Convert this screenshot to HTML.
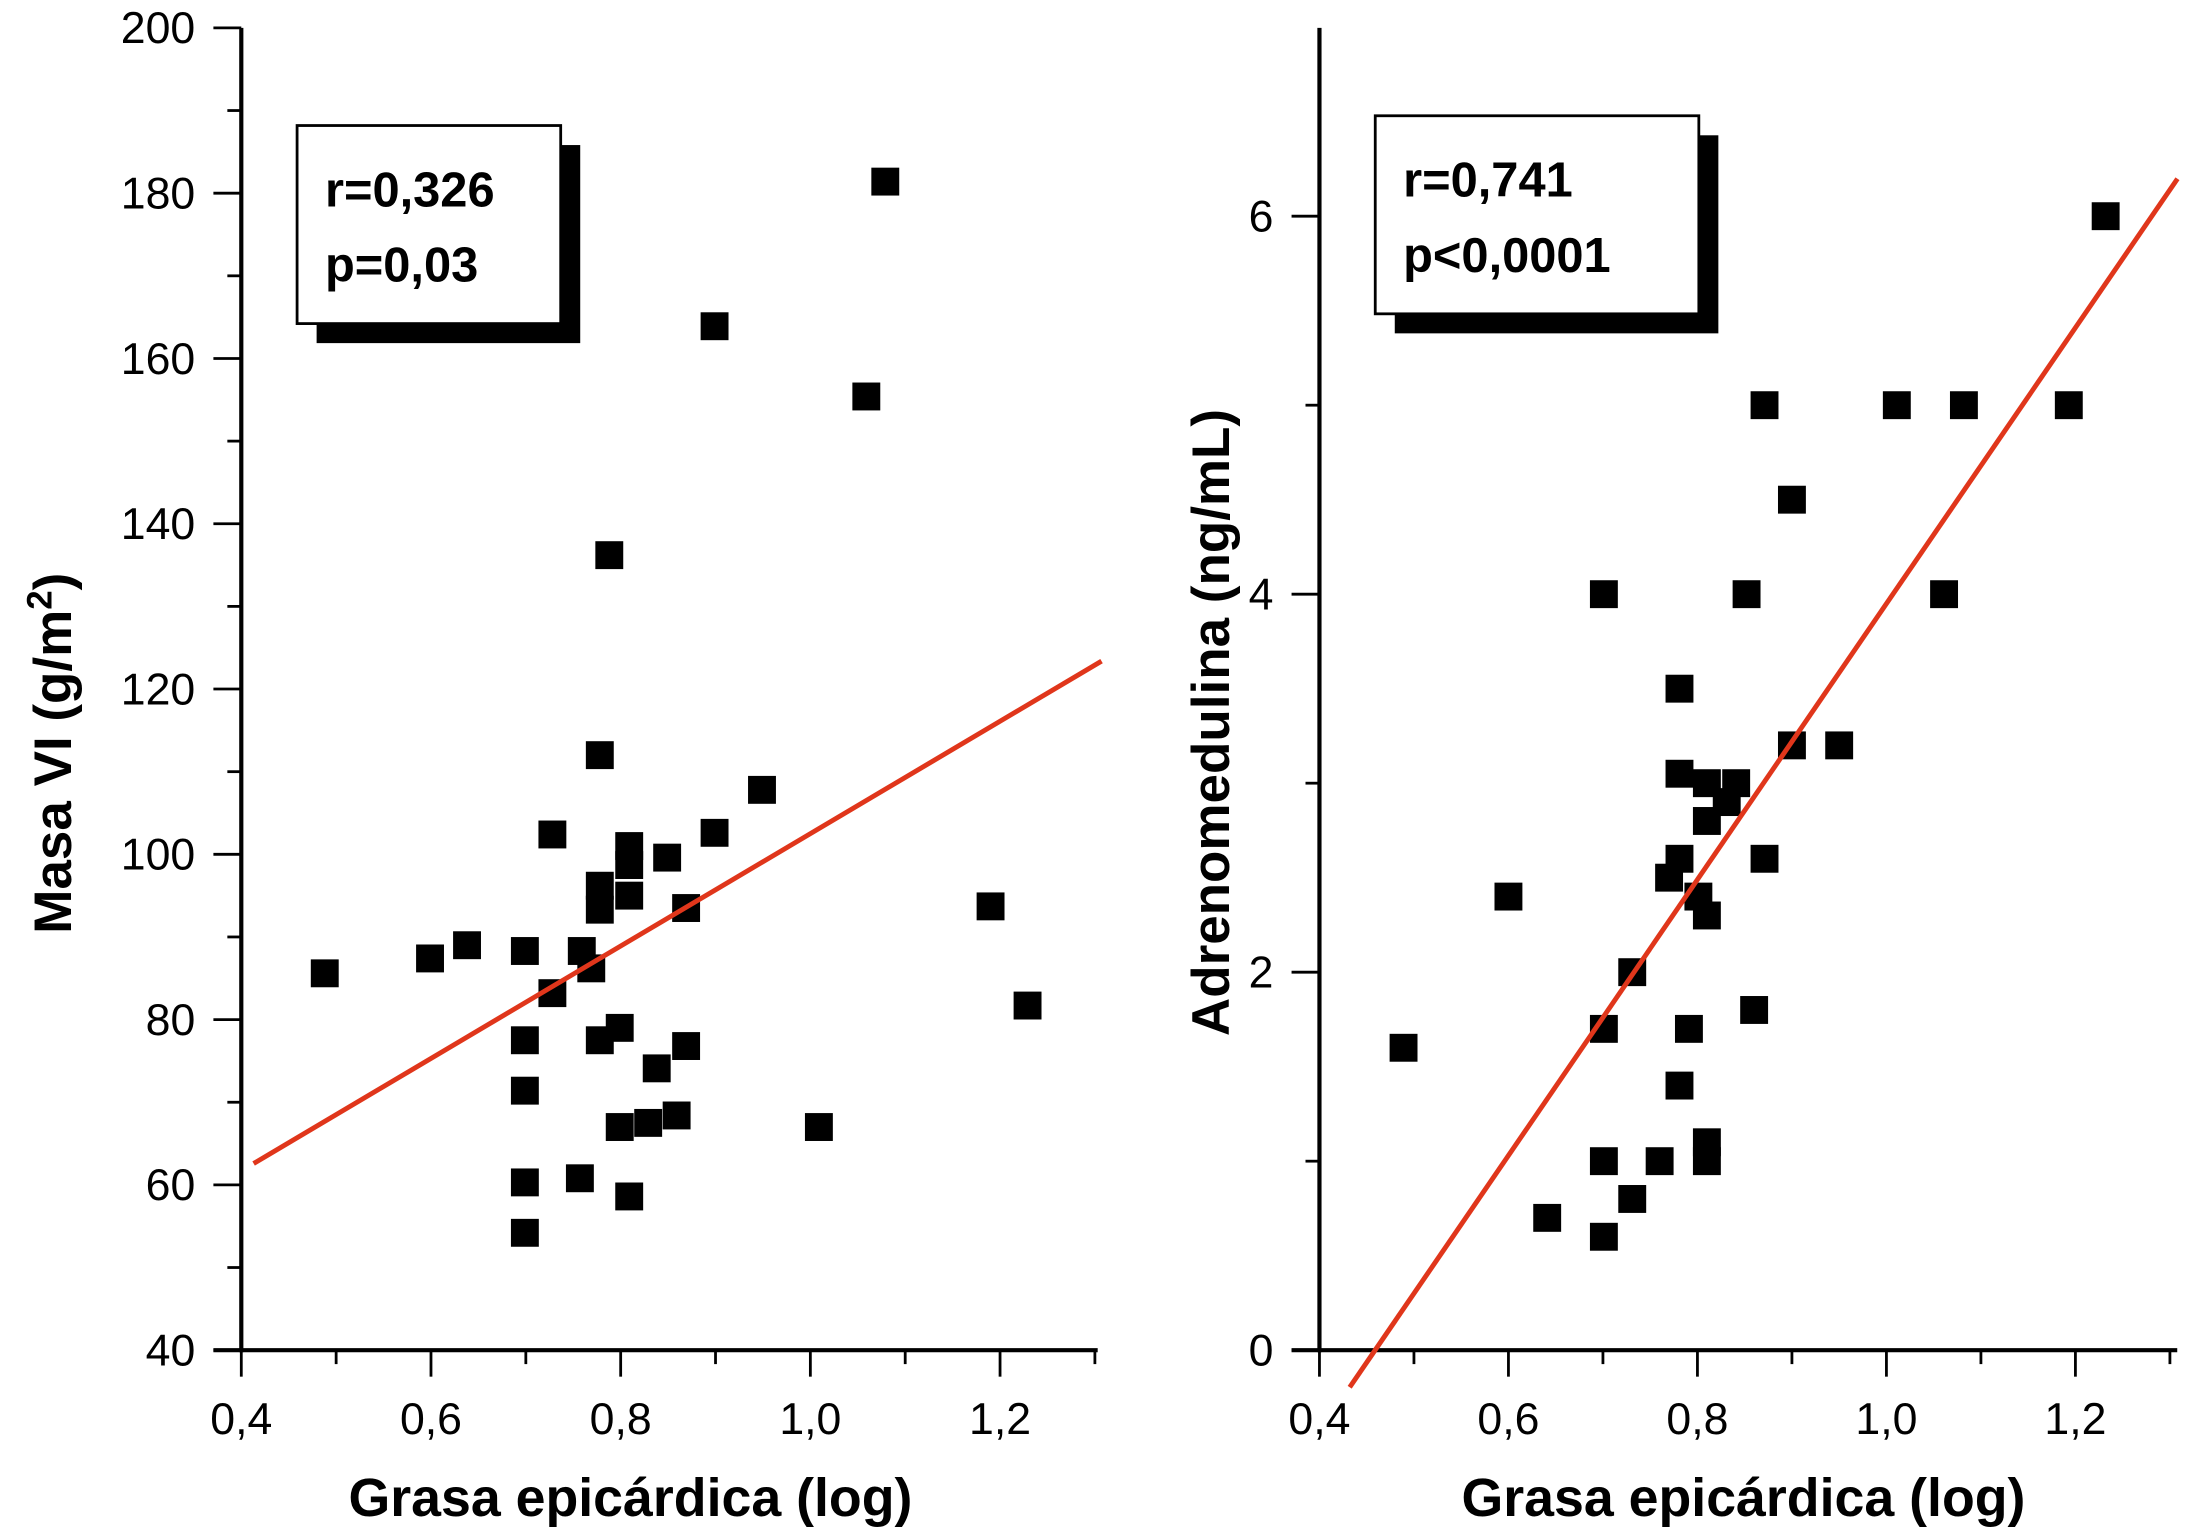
<!DOCTYPE html>
<html><head><meta charset="utf-8"><style>
html,body{margin:0;padding:0;background:#fff}
svg{display:block}
text{font-family:"Liberation Sans",Arial,sans-serif;fill:#000}
</style></head><body>
<svg id="fig" width="2187" height="1528" viewBox="0 0 1568 1095.5" preserveAspectRatio="none" xmlns="http://www.w3.org/2000/svg">
<g id="left"></g>
<g id="right"></g>
</svg>
<script>
const leftX = [0.488,0.599,0.638,0.699,0.699,0.699,0.699,0.699,0.728,0.728,0.757,0.759,0.769,0.778,0.778,0.778,0.778,0.788,0.799,0.799,0.809,0.809,0.809,0.809,0.829,0.838,0.859,0.849,0.869,0.869,0.899,0.899,0.949,1.009,1.059,1.079,1.19,1.229];
const leftY = [85.6,87.4,89,88.3,77.5,71.4,60.3,54.2,83.2,102.4,60.8,88.3,86.2,112,96.2,93.3,77.5,136.2,79,67,101,95,58.6,98.7,67.5,74.1,68.4,99.6,76.8,93.5,102.6,163.9,107.8,67,155.4,181.4,93.7,81.7];
const leftFit = [34.5, 68];
const leftYTicks = [40,60,80,100,120,140,160,180,200];
const rightX = [0.489,0.6,0.641,0.701,0.701,0.701,0.701,0.731,0.731,0.76,0.77,0.781,0.781,0.781,0.781,0.791,0.801,0.81,0.81,0.81,0.81,0.81,0.831,0.841,0.852,0.86,0.871,0.871,0.9,0.9,0.95,1.011,1.061,1.082,1.193,1.232];
const rightY = [1.6,2.4,0.7,4,1.7,1.0,0.6,2,0.8,1.0,2.5,3.5,3.05,2.6,1.4,1.7,2.4,3.0,2.3,2.8,1.1,1.0,2.9,3.0,4,1.8,5,2.6,4.5,3.2,3.2,5,4,5,5,6];
const rightFit = [-3.35, 7.3];
const rightYTicks = [0,2,4,6];
const xTicks = ['0,4','0,6','0,8','1,0','1,2'];
const xTickVals = [0.4,0.6,0.8,1.0,1.2];

const NS='http://www.w3.org/2000/svg';
function mk(parent,tag,attrs,txt){const e=document.createElementNS(NS,tag);for(const k in attrs)e.setAttribute(k,attrs[k]);if(txt!==undefined)e.textContent=txt;parent.appendChild(e);return e;}

function chart(g,cfg){
  const sx=v=>cfg.x0+(v-0.4)/0.2*cfg.dx;
  const sy=v=>cfg.yb-(v-cfg.ymin)*cfg.py;
  let e;
  e=mk(g,'line',{x1:cfg.x0,y1:cfg.ytop,x2:cfg.x0,y2:cfg.yb+1.5,stroke:'#000','stroke-width':3});
  
  
  e=mk(g,'line',{x1:cfg.x0-20,y1:cfg.yb,x2:cfg.xend,y2:cfg.yb,stroke:'#000','stroke-width':3});
  
  
  for(let v=cfg.ymin; v<=cfg.ymax+1e-9; v+=cfg.minor){
    const major=Math.abs(((v-cfg.ymin)/cfg.major)-Math.round((v-cfg.ymin)/cfg.major))<1e-6;
    mk(g,'line',{x1:cfg.x0-(major?20:10),y1:sy(v),x2:cfg.x0,y2:sy(v),stroke:'#000','stroke-width':2});
  }
  cfg.yticks.forEach(v=>{
    e=mk(g,'text',{x:cfg.x0-33,y:sy(v)+11,'text-anchor':'end','font-size':32},String(v));
    
    
  });
  for(let v=0.4; v<=cfg.xmaxTick+1e-9; v+=0.1){
    const major=Math.abs(v*10%2)<1e-6||Math.abs(v*10%2-2)<1e-6;
    mk(g,'line',{x1:sx(v),y1:cfg.yb,x2:sx(v),y2:cfg.yb+(major?19:10),stroke:'#000','stroke-width':2});
  }
  xTicks.forEach((t,i)=>{
    e=mk(g,'text',{x:sx(xTickVals[i]),y:cfg.yb+60,'text-anchor':'middle','font-size':32},t);
    
    
  });
  cfg.xs.forEach((xv,i)=>{
    e=mk(g,'rect',{x:sx(xv)-10,y:sy(cfg.ys[i])-10,width:20,height:20,fill:'#000'});
    
    
  });
  const f=v=>cfg.fit[0]+cfg.fit[1]*v;
  e=mk(g,'line',{x1:sx(cfg.fx[0]),y1:sy(f(cfg.fx[0])),x2:sx(cfg.fx[1]),y2:sy(f(cfg.fx[1])),stroke:'#e0361b','stroke-width':3.5});
  
  
  const b=cfg.box;
  e=mk(g,'rect',{x:b[0]+14,y:b[1]+14,width:b[2],height:b[3],fill:'#000'});
  
  
  e=mk(g,'rect',{x:b[0],y:b[1],width:b[2],height:b[3],fill:'#fff',stroke:'#000','stroke-width':2});
  
  
  e=mk(g,'text',{x:b[0]+20,y:b[1]+58,'font-size':35,'font-weight':'bold'},cfg.t1);
  
  
  e=mk(g,'text',{x:b[0]+20,y:b[1]+112,'font-size':35,'font-weight':'bold'},cfg.t2);
  
  
  e=mk(g,'text',{x:cfg.xlx,y:1087,'text-anchor':'middle','font-size':38.5,'font-weight':'bold'},'Grasa epicárdica (log)');
  
  
  e=mk(g,'text',{transform:`translate(${cfg.ylx},${cfg.yly}) rotate(-90)`,'text-anchor':'middle','font-size':38,'font-weight':'bold'});
  
  
  e.innerHTML=cfg.ylab;
}
chart(document.getElementById('left'),{x0:173,dx:136,xend:787,xmaxTick:1.3,yb:968,ytop:20,ymin:40,ymax:200,py:5.925,major:20,minor:10,yticks:leftYTicks,xs:leftX,ys:leftY,fit:leftFit,fx:[0.413,1.307],box:[213,90,189,142],t1:'r=0,326',t2:'p=0,03',xlx:452,ylx:51,yly:540,ylab:'Masa VI (g/m<tspan font-size="25" dy="-14">2</tspan><tspan dy="14">)</tspan>'});
chart(document.getElementById('right'),{x0:946,dx:135.5,xend:1561,xmaxTick:1.3,yb:968,ytop:20,ymin:0,ymax:6.99,py:135.5,major:2,minor:1,yticks:rightYTicks,xs:rightX,ys:rightY,fit:rightFit,fx:[0.432,1.308],box:[986,83,232,142],t1:'r=0,741',t2:'p<0,0001',xlx:1250,ylx:881,yly:518,ylab:'Adrenomedulina (ng/mL)'});
</script>
</body></html>
